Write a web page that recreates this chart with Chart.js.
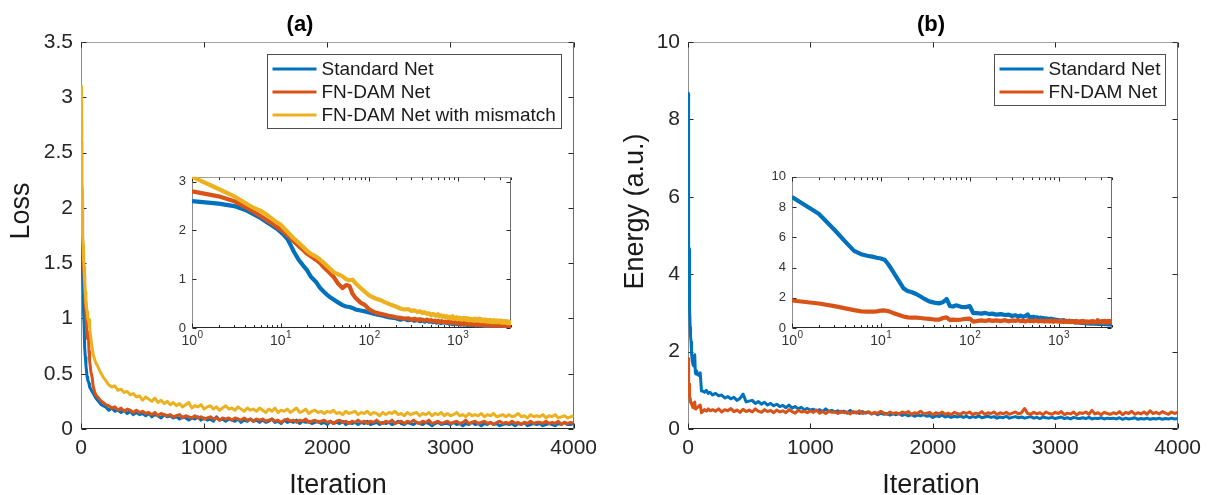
<!DOCTYPE html>
<html>
<head>
<meta charset="utf-8">
<title>Loss and energy during training</title>
<script src="https://cdn.jsdelivr.net/npm/chart.js@4.4.1/dist/chart.umd.min.js"></script>
<style>
  html, body { margin: 0; padding: 0; background: #fff; overflow: hidden; }
  #figure { position: relative; width: 1208px; height: 495px; }
  #figure canvas { position: absolute; }
</style>
</head>
<body>
<div id="figure">
  <canvas id="lossMain" width="604" height="495" style="left:0;top:0;width:604px;height:495px"></canvas>
  <canvas id="energyMain" width="604" height="495" style="left:604px;top:0;width:604px;height:495px"></canvas>
  <canvas id="lossInset" width="355" height="191" style="left:168px;top:163px;width:355px;height:191px"></canvas>
  <canvas id="energyInset" width="362" height="191" style="left:762px;top:163px;width:362px;height:191px"></canvas>
</div>
<script>
// Training iterations at which the curves are sampled (dense early, every 25 later)
const iterations = [
  1,2,3,4,5,6,7,8,9,10,
  11,12,13,14,16,18,20,22,25,28,
  31,35,40,45,50,55,60,65,70,80,
  90,100,110,120,135,150,165,180,200,
  225,250,275,300,325,350,375,400,425,450,
  475,500,525,550,575,600,625,650,675,700,
  725,750,775,800,825,850,875,900,925,950,
  975,1000,1025,1050,1075,1100,1125,1150,1175,1200,
  1225,1250,1275,1300,1325,1350,1375,1400,1425,1450,
  1475,1500,1525,1550,1575,1600,1625,1650,1675,1700,
  1725,1750,1775,1800,1825,1850,1875,1900,1925,1950,
  1975,2000,2025,2050,2075,2100,2125,2150,2175,2200,
  2225,2250,2275,2300,2325,2350,2375,2400,2425,2450,
  2475,2500,2525,2550,2575,2600,2625,2650,2675,2700,
  2725,2750,2775,2800,2825,2850,2875,2900,2925,2950,
  2975,3000,3025,3050,3075,3100,3125,3150,3175,3200,
  3225,3250,3275,3300,3325,3350,3375,3400,3425,3450,
  3475,3500,3525,3550,3575,3600,3625,3650,3675,3700,
  3725,3750,3775,3800,3825,3850,3875,3900,3925,3950,
  3975,4000
];

// (a) Loss
const lossStandard = [
  2.60,2.55,2.50,2.42,2.33,2.25,2.17,2.10,2.04,1.97,
  1.90,1.82,1.70,1.58,1.40,1.28,1.18,1.05,0.95,0.82,
  0.74,0.65,0.58,0.52,0.47,0.44,0.43,0.41,0.38,0.36,
  0.34,0.32,0.30,0.28,0.26,0.24,0.22,0.21,0.20,
  0.17,0.19,0.16,0.17,0.15,0.17,0.14,0.16,0.13,0.15,
  0.13,0.14,0.12,0.14,0.11,0.13,0.12,0.10,0.13,0.11,
  0.12,0.10,0.11,0.09,0.11,0.10,0.08,0.10,0.09,0.11,
  0.08,0.10,0.08,0.09,0.07,0.11,0.08,0.09,0.07,0.09,
  0.08,0.07,0.09,0.06,0.08,0.07,0.09,0.07,0.08,0.06,
  0.08,0.06,0.07,0.09,0.06,0.07,0.05,0.08,0.06,0.07,
  0.06,0.08,0.05,0.07,0.06,0.07,0.05,0.06,0.07,0.05,
  0.06,0.04,0.07,0.05,0.06,0.05,0.07,0.04,0.06,0.05,
  0.06,0.04,0.06,0.05,0.07,0.04,0.05,0.06,0.04,0.06,
  0.05,0.06,0.04,0.05,0.07,0.05,0.04,0.06,0.05,0.04,
  0.06,0.05,0.04,0.06,0.05,0.03,0.05,0.06,0.04,0.05,
  0.05,0.04,0.06,0.04,0.05,0.03,0.05,0.04,0.06,0.04,
  0.05,0.03,0.05,0.04,0.06,0.04,0.05,0.03,0.04,0.05,
  0.04,0.05,0.03,0.05,0.04,0.06,0.03,0.04,0.05,0.04,
  0.05,0.03,0.04,0.05,0.04,0.03,0.05,0.04,0.06,0.04,
  0.04,0.05
];
const lossFnDam = [
  2.80,2.70,2.60,2.48,2.38,2.29,2.21,2.14,2.08,2.02,
  1.96,1.90,1.84,1.78,1.68,1.60,1.52,1.47,1.40,1.33,
  1.24,1.15,1.04,0.90,0.82,0.88,0.86,0.70,0.62,0.52,
  0.47,0.38,0.34,0.31,0.29,0.27,0.25,0.24,0.22,
  0.21,0.19,0.20,0.17,0.19,0.16,0.18,0.17,0.15,0.17,
  0.15,0.16,0.14,0.15,0.13,0.15,0.12,0.14,0.13,0.12,
  0.13,0.11,0.12,0.13,0.10,0.12,0.11,0.10,0.12,0.10,
  0.11,0.09,0.10,0.11,0.09,0.10,0.08,0.10,0.09,0.10,
  0.08,0.10,0.09,0.08,0.10,0.08,0.09,0.07,0.09,0.08,
  0.09,0.07,0.08,0.09,0.07,0.08,0.06,0.08,0.09,0.07,
  0.08,0.06,0.08,0.07,0.09,0.06,0.07,0.08,0.06,0.07,
  0.08,0.06,0.07,0.05,0.07,0.08,0.06,0.07,0.05,0.07,
  0.06,0.08,0.06,0.07,0.05,0.07,0.06,0.08,0.06,0.05,
  0.07,0.06,0.08,0.05,0.06,0.07,0.05,0.07,0.06,0.08,
  0.06,0.05,0.07,0.06,0.08,0.05,0.06,0.07,0.05,0.06,
  0.07,0.05,0.06,0.07,0.05,0.06,0.08,0.05,0.06,0.07,
  0.05,0.06,0.07,0.05,0.06,0.04,0.06,0.07,0.05,0.06,
  0.05,0.07,0.05,0.06,0.04,0.06,0.05,0.07,0.05,0.06,
  0.06,0.05,0.07,0.05,0.06,0.05,0.07,0.04,0.06,0.05,
  0.06,0.05
];
const lossMismatch = [
  3.10,2.85,2.70,2.56,2.46,2.40,2.32,2.24,2.17,2.12,
  2.04,1.97,1.90,1.84,1.75,1.66,1.58,1.52,1.47,1.40,
  1.33,1.24,1.14,1.10,1.06,1.00,0.98,0.99,0.92,0.82,
  0.74,0.67,0.63,0.60,0.57,0.53,0.50,0.47,0.44,
  0.40,0.38,0.39,0.35,0.36,0.33,0.34,0.31,0.32,0.29,
  0.30,0.26,0.29,0.27,0.25,0.28,0.24,0.26,0.23,0.25,
  0.22,0.24,0.21,0.23,0.20,0.22,0.24,0.19,0.21,0.20,
  0.22,0.18,0.20,0.21,0.18,0.20,0.17,0.19,0.21,0.18,
  0.19,0.17,0.20,0.18,0.16,0.19,0.17,0.18,0.16,0.19,
  0.17,0.15,0.18,0.16,0.19,0.15,0.17,0.16,0.18,0.15,
  0.17,0.19,0.15,0.16,0.18,0.14,0.16,0.17,0.15,0.16,
  0.14,0.16,0.15,0.17,0.14,0.15,0.13,0.16,0.14,0.15,
  0.16,0.13,0.15,0.14,0.16,0.13,0.15,0.14,0.12,0.15,
  0.13,0.15,0.14,0.16,0.13,0.14,0.12,0.15,0.13,0.14,
  0.15,0.12,0.14,0.13,0.15,0.12,0.14,0.13,0.15,0.12,
  0.14,0.12,0.13,0.15,0.12,0.13,0.11,0.14,0.12,0.13,
  0.12,0.14,0.11,0.13,0.12,0.14,0.11,0.12,0.13,0.11,
  0.13,0.11,0.12,0.14,0.11,0.12,0.10,0.13,0.11,0.12,
  0.11,0.13,0.10,0.12,0.11,0.13,0.10,0.11,0.12,0.10,
  0.11,0.12
];

// (b) Energy (a.u.)
const energyStandard = [
  8.67,7.55,6.50,5.70,5.10,4.88,4.78,4.72,4.65,4.60,
  4.52,4.25,3.95,3.65,3.10,2.62,2.45,2.38,2.25,2.08,
  1.92,1.76,1.68,1.63,1.70,1.92,1.45,1.42,1.50,1.40,
  1.38,1.45,0.98,0.98,0.95,1.00,0.92,0.95,0.88,
  0.92,0.86,0.88,0.80,0.84,0.78,0.82,0.74,0.79,0.90,
  0.70,0.72,0.74,0.66,0.71,0.64,0.69,0.62,0.66,0.60,
  0.64,0.58,0.61,0.55,0.62,0.54,0.58,0.52,0.56,0.50,
  0.53,0.49,0.51,0.47,0.50,0.45,0.52,0.46,0.48,0.44,
  0.47,0.43,0.46,0.41,0.48,0.42,0.44,0.40,0.45,0.41,
  0.43,0.39,0.42,0.37,0.41,0.38,0.40,0.36,0.39,0.37,
  0.40,0.35,0.38,0.34,0.37,0.33,0.36,0.34,0.37,0.33,
  0.35,0.30,0.34,0.32,0.36,0.31,0.34,0.30,0.33,0.31,
  0.34,0.30,0.33,0.29,0.32,0.30,0.34,0.29,0.31,0.33,
  0.30,0.32,0.28,0.31,0.29,0.33,0.28,0.30,0.32,0.29,
  0.31,0.28,0.30,0.32,0.28,0.30,0.27,0.31,0.29,0.28,
  0.30,0.27,0.29,0.31,0.27,0.29,0.26,0.30,0.28,0.27,
  0.29,0.27,0.30,0.26,0.28,0.27,0.29,0.26,0.28,0.27,
  0.28,0.26,0.29,0.25,0.28,0.26,0.27,0.29,0.25,0.27,
  0.26,0.28,0.25,0.27,0.26,0.28,0.25,0.27,0.26,0.28,
  0.26,0.27
];
const energyFnDam = [
  1.82,1.62,1.45,1.30,1.18,1.10,1.08,1.08,1.10,1.15,
  1.16,1.12,1.05,0.98,0.86,0.76,0.70,0.69,0.68,0.66,
  0.63,0.60,0.56,0.55,0.66,0.70,0.52,0.55,0.54,0.56,
  0.60,0.62,0.42,0.45,0.50,0.46,0.52,0.47,0.50,
  0.46,0.52,0.44,0.50,0.47,0.53,0.45,0.49,0.43,0.51,
  0.45,0.49,0.44,0.52,0.46,0.43,0.50,0.45,0.48,0.42,
  0.49,0.44,0.47,0.42,0.50,0.45,0.41,0.48,0.44,0.46,
  0.42,0.47,0.43,0.49,0.41,0.45,0.40,0.46,0.43,0.44,
  0.40,0.46,0.42,0.44,0.39,0.45,0.41,0.47,0.40,0.43,
  0.45,0.39,0.43,0.40,0.46,0.41,0.38,0.44,0.40,0.42,
  0.39,0.44,0.41,0.45,0.38,0.42,0.40,0.46,0.39,0.41,
  0.43,0.37,0.42,0.39,0.44,0.38,0.41,0.37,0.43,0.40,
  0.38,0.43,0.40,0.44,0.37,0.41,0.39,0.45,0.38,0.42,
  0.40,0.44,0.37,0.42,0.39,0.43,0.38,0.41,0.44,0.39,
  0.42,0.53,0.40,0.38,0.43,0.39,0.42,0.37,0.44,0.40,
  0.38,0.43,0.40,0.45,0.37,0.41,0.39,0.44,0.36,0.42,
  0.40,0.44,0.38,0.48,0.39,0.42,0.37,0.43,0.40,0.38,
  0.42,0.39,0.45,0.37,0.43,0.40,0.46,0.38,0.42,0.39,
  0.44,0.38,0.47,0.40,0.43,0.39,0.45,0.41,0.38,0.44,
  0.40,0.43
];

// Tick values
const iterationTicks = [0, 1000, 2000, 3000, 4000];
const lossTicks = [0, 0.5, 1, 1.5, 2, 2.5, 3, 3.5];
const energyTicks = [0, 2, 4, 6, 8, 10];
const insetLossTicks = [0, 1, 2, 3];
const insetEnergyTicks = [0, 2, 4, 6, 8, 10];
const decadeTicks = [1, 10, 100, 1000];
const decadeExponents = ['0', '1', '2', '3'];
const minorLogTicks = [2,3,4,5,6,7,8,9,20,30,40,50,60,70,80,90,200,300,400,500,600,700,800,900,2000,3000,4000];

const seriesNames = ['Standard Net', 'FN-DAM Net', 'FN-DAM Net with mismatch'];
const seriesColors = ['#0072BD', '#D95319', '#EDB120'];

const FONT = "'Liberation Sans', Arial, Helvetica, sans-serif";
Chart.defaults.font.family = FONT;
Chart.defaults.color = '#262626';

function pointsOf(values) {
  return iterations.map((it, i) => ({ x: it, y: values[i] }));
}

// Box frame and inward tick marks on all four sides, drawn beneath the curves
const boxAxes = {
  id: 'boxAxes',
  beforeDraw(chart) {
    const { ctx, chartArea: a } = chart;
    ctx.save();
    ctx.fillStyle = '#ffffff';
    ctx.fillRect(a.left, a.top, a.right - a.left, a.bottom - a.top);
    ctx.restore();
  },
  beforeDatasetsDraw(chart, args, o) {
    const { ctx, chartArea: a, scales } = chart;
    const L = Math.round(a.left) + 0.5, R = Math.round(a.right) - 0.5;
    const T = Math.round(a.top) + 0.5, B = Math.round(a.bottom) - 0.5;
    const seg = (x1, y1, x2, y2, color) => {
      ctx.strokeStyle = color;
      ctx.beginPath(); ctx.moveTo(x1, y1); ctx.lineTo(x2, y2); ctx.stroke();
    };
    ctx.save();
    ctx.lineWidth = 1;
    seg(L, T, R, T, '#a0a0a0');
    seg(R, T, R, B, '#6e6e6e');
    seg(L, T, L, B, '#8c8c8c');
    seg(L, B, R, B, '#262626');
    const tick = o.tickLength, minor = o.minorLength || 0;
    const xs = scales.x, ys = scales.y;
    (o.xMajor || []).forEach(v => {
      const p = Math.round(xs.getPixelForValue(v)) + 0.5;
      seg(p, B, p, B - tick, '#262626');
      seg(p, T, p, T + tick, '#262626');
    });
    (o.xMinor || []).forEach(v => {
      const p = Math.round(xs.getPixelForValue(v)) + 0.5;
      seg(p, B, p, B - minor, '#262626');
      seg(p, T, p, T + minor, '#262626');
    });
    (o.yMajor || []).forEach(v => {
      const p = Math.round(ys.getPixelForValue(v)) + 0.5;
      seg(L, p, L + tick, p, '#262626');
      seg(R, p, R - tick, p, '#262626');
    });
    ctx.restore();
  }
};

// "10^n" labels under a logarithmic axis
const decadeLabels = {
  id: 'decadeLabels',
  afterDraw(chart, args, o) {
    if (!o.values) return;
    const { ctx, chartArea: a, scales } = chart;
    ctx.save();
    ctx.fillStyle = '#333333';
    ctx.textBaseline = 'alphabetic';
    ctx.textAlign = 'left';
    o.values.forEach((v, i) => {
      const p = scales.x.getPixelForValue(v);
      ctx.font = `${o.size}px ${FONT}`;
      const wBase = ctx.measureText('10').width;
      ctx.font = `${o.expSize}px ${FONT}`;
      const wExp = ctx.measureText(o.exponents[i]).width;
      const x0 = p - (wBase + wExp) / 2;
      ctx.font = `${o.size}px ${FONT}`;
      ctx.fillText('10', x0, a.bottom + o.offset);
      ctx.font = `${o.expSize}px ${FONT}`;
      ctx.fillText(o.exponents[i], x0 + wBase + 0.5, a.bottom + o.offset - o.raise);
    });
    ctx.restore();
  }
};

// Boxed legend in the upper-right corner of the plot
const boxedLegend = {
  id: 'boxedLegend',
  afterDatasetsDraw(chart, args, o) {
    if (!o.display) return;
    const { ctx, chartArea: a } = chart;
    const sets = chart.data.datasets;
    ctx.save();
    ctx.font = `${o.size}px ${FONT}`;
    const textW = Math.max(...sets.map(d => ctx.measureText(d.label).width));
    const w = 5 + o.lineLength + 5 + textW + 6;
    const h = 15 + o.rowGap * (sets.length - 1) + 13;
    const right = a.right - 12, top = a.top + 12;
    const left = Math.round(right - w) + 0.5;
    ctx.fillStyle = '#ffffff';
    ctx.fillRect(left, top + 0.5, right - left, h);
    ctx.strokeStyle = '#4d4d4d';
    ctx.lineWidth = 1;
    ctx.strokeRect(left, top + 0.5, Math.round(right - left), h);
    sets.forEach((d, i) => {
      const cy = top + 15 + o.rowGap * i;
      ctx.strokeStyle = d.borderColor;
      ctx.lineWidth = 3;
      ctx.beginPath();
      ctx.moveTo(left + 5, cy);
      ctx.lineTo(left + 5 + o.lineLength, cy);
      ctx.stroke();
      ctx.fillStyle = '#1a1a1a';
      ctx.textBaseline = 'middle';
      ctx.textAlign = 'left';
      ctx.fillText(d.label, left + 10 + o.lineLength, cy + 1);
    });
    ctx.restore();
  }
};

// Panel letters and axis titles
const panelText = {
  id: 'panelText',
  afterDraw(chart, args, o) {
    const { ctx } = chart;
    (o.items || []).forEach(t => {
      ctx.save();
      ctx.fillStyle = t.color || '#1a1a1a';
      ctx.font = `${t.bold ? 'bold ' : ''}${t.size}px ${FONT}`;
      ctx.textAlign = 'center';
      ctx.textBaseline = 'alphabetic';
      ctx.translate(t.x, t.y);
      if (t.vertical) ctx.rotate(-Math.PI / 2);
      ctx.fillText(t.text, 0, 0);
      ctx.restore();
    });
  }
};

function lineSets(seriesList, width) {
  return seriesList.map((values, i) => ({
    label: seriesNames[i],
    data: pointsOf(values),
    borderColor: seriesColors[i],
    backgroundColor: seriesColors[i],
    borderWidth: width,
    pointRadius: 0,
    tension: 0,
    fill: false,
    borderJoinStyle: 'round',
    order: seriesList.length - i
  }));
}

const hiddenGrid = { display: false, drawTicks: false };

function mainPanel(id, seriesList, yTicks, yMax, rightPad, yWidth, texts) {
  return new Chart(document.getElementById(id), {
    type: 'line',
    data: { datasets: lineSets(seriesList, 3) },
    options: {
      responsive: false,
      animation: false,
      devicePixelRatio: 1,
      events: [],
      layout: { padding: { top: 42, right: rightPad, left: 0, bottom: 0 } },
      plugins: {
        legend: { display: false },
        tooltip: { enabled: false },
        boxAxes: { xMajor: iterationTicks, yMajor: yTicks, tickLength: 5 },
        boxedLegend: { display: true, size: 19, lineLength: 44, rowGap: 23 },
        panelText: { items: texts }
      },
      scales: {
        x: {
          type: 'linear', min: 0, max: 4000,
          grid: hiddenGrid, border: { display: false },
          afterBuildTicks: s => { s.ticks = iterationTicks.map(v => ({ value: v })); },
          afterFit: s => { s.height = 66; },
          ticks: { font: { size: 21 }, color: '#262626', padding: 7, maxRotation: 0, autoSkip: false,
                   callback: v => String(v) }
        },
        y: {
          type: 'linear', min: 0, max: yMax,
          grid: hiddenGrid, border: { display: false },
          afterBuildTicks: s => { s.ticks = yTicks.map(v => ({ value: v })); },
          afterFit: s => { s.width = yWidth; },
          ticks: { font: { size: 21 }, color: '#262626', padding: 8, autoSkip: false,
                   callback: v => String(v) }
        }
      }
    },
    plugins: [boxAxes, boxedLegend, panelText]
  });
}

function insetPanel(id, seriesList, yTicks, yMax, yWidth) {
  return new Chart(document.getElementById(id), {
    type: 'line',
    data: { datasets: lineSets(seriesList, 4.2) },
    options: {
      responsive: false,
      animation: false,
      devicePixelRatio: 1,
      events: [],
      layout: { padding: { top: 10, right: 12, left: 0, bottom: 0 } },
      plugins: {
        legend: { display: false },
        tooltip: { enabled: false },
        boxAxes: { xMajor: decadeTicks, xMinor: minorLogTicks, yMajor: yTicks, tickLength: 4, minorLength: 2.5 },
        decadeLabels: { values: decadeTicks, exponents: decadeExponents, size: 14, expSize: 10, offset: 17, raise: 7 },
        boxedLegend: { display: false }
      },
      scales: {
        x: {
          type: 'logarithmic', min: 1, max: 4000,
          grid: hiddenGrid, border: { display: false },
          ticks: { display: false },
          afterFit: s => { s.height = 26; }
        },
        y: {
          type: 'linear', min: 0, max: yMax,
          grid: hiddenGrid, border: { display: false },
          afterBuildTicks: s => { s.ticks = yTicks.map(v => ({ value: v })); },
          afterFit: s => { s.width = yWidth; },
          ticks: { font: { size: 13 }, color: '#333333', padding: 6, autoSkip: false,
                   callback: v => String(v) }
        }
      }
    },
    plugins: [boxAxes, decadeLabels, boxedLegend]
  });
}

mainPanel('lossMain', [lossStandard, lossFnDam, lossMismatch], lossTicks, 3.5, 28, 81, [
  { text: '(a)', x: 300, y: 31, size: 22, bold: true, color: '#000' },
  { text: 'Loss', x: 29, y: 211, size: 27, vertical: true },
  { text: 'Iteration', x: 338, y: 493, size: 27 }
]);
mainPanel('energyMain', [energyStandard, energyFnDam], energyTicks, 10, 25, 84, [
  { text: '(b)', x: 327, y: 31, size: 22, bold: true, color: '#000' },
  { text: 'Energy (a.u.)', x: 39, y: 211.5, size: 27, vertical: true },
  { text: 'Iteration', x: 327, y: 493, size: 27 }
]);
insetPanel('lossInset', [lossStandard, lossFnDam, lossMismatch], insetLossTicks, 3.1, 24);
insetPanel('energyInset', [energyStandard, energyFnDam], insetEnergyTicks, 10, 30);
</script>
</body>
</html>
